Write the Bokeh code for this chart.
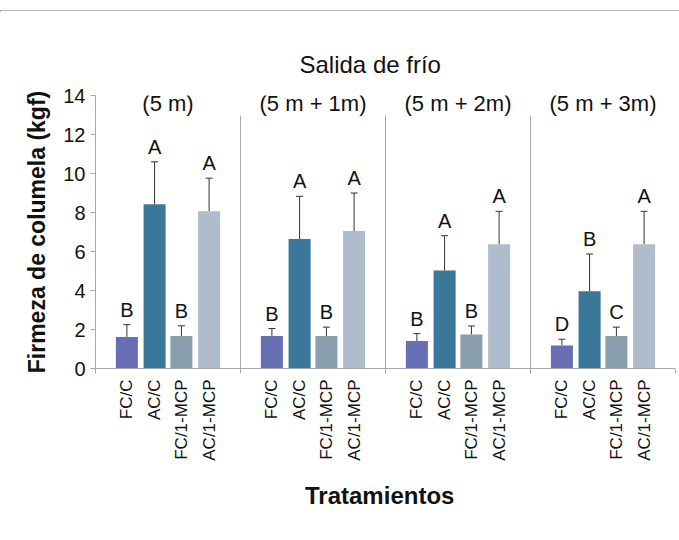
import math
from bokeh.plotting import figure
from bokeh.models import (Range1d, FixedTicker, ColumnDataSource, Whisker, TeeHead,
                          Div, Title)
from bokeh.layouts import column
from bokeh.core.properties import value
from bokeh.embed import file_html
from bokeh.resources import INLINE

# --- data -----------------------------------------------------------------
groups = ["(5 m)", "(5 m + 1m)", "(5 m + 2m)", "(5 m + 3m)"]
treatments = ["FC/C", "AC/C", "FC/1-MCP", "AC/1-MCP"]
colors = ["#686fb5", "#3a7799", "#8a9fae", "#afbccb"]

# mean firmness (kgf) per group, in treatment order
means = [
    [1.62, 8.42, 1.67, 8.06],
    [1.67, 6.64, 1.67, 7.05],
    [1.41, 5.02, 1.74, 6.37],
    [1.18, 3.96, 1.67, 6.37],
]
# standard deviation (upper error bar)
errors = [
    [0.63, 2.18, 0.52, 1.70],
    [0.38, 2.19, 0.45, 1.95],
    [0.38, 1.79, 0.44, 1.69],
    [0.32, 1.91, 0.45, 1.69],
]
# significance letters
letters = [
    ["B", "A", "B", "A"],
    ["B", "A", "B", "A"],
    ["B", "A", "B", "A"],
    ["D", "B", "C", "A"],
]

FONT = "Liberation Sans"
AXIS_GREY = "#a8a8a8"
INK = "#111111"
offsets = [-0.2835, -0.0925, 0.0925, 0.2835]
bar_w = 0.152

xs, tops, errs, cols, labs, names = [], [], [], [], [], []
for g in range(len(groups)):
    for t in range(len(treatments)):
        xs.append(g + 0.5 + offsets[t])
        tops.append(means[g][t])
        errs.append(means[g][t] + errors[g][t])
        cols.append(colors[t])
        labs.append(letters[g][t])
        names.append(treatments[t])

src = ColumnDataSource(dict(x=xs, top=tops, upper=errs, color=cols, letter=labs,
                            name=names))
x_range = Range1d(0, len(groups))
bounds = list(range(len(groups) + 1))

# --- bar panel ---------------------------------------------------------------
p = figure(width=679, height=368, output_backend="svg", toolbar_location=None,
           x_range=x_range, y_range=Range1d(0, 14),
           min_border_left=95, min_border_right=4, min_border_top=85,
           min_border_bottom=10)
p.outline_line_color = None
p.grid.visible = False
p.background_fill_color = "white"
p.border_fill_color = "white"

p.title = Title(text="Salida de frío", align="left", offset=204,
                text_font=FONT, text_font_size="24px", text_font_style="normal",
                text_color=INK, standoff=36)

# group separators
p.segment(x0=[1, 2, 3], y0=[0, 0, 0], x1=[1, 2, 3], y1=[12.97] * 3,
          line_color=AXIS_GREY, line_width=1)

p.vbar(x="x", top="top", width=bar_w, color="color", line_color=None, source=src)

p.add_layout(Whisker(source=src, base="x", lower="top", upper="upper",
                     line_color="#333333", line_width=1,
                     upper_head=TeeHead(size=7, line_color="#333333", line_width=1),
                     lower_head=None))

p.text(x="x", y="upper", text="letter", source=src, y_offset=-4,
       text_align="center", text_baseline="bottom",
       text_font=value(FONT), text_font_size="20px", text_color=INK)

p.text(x=[g + 0.5 for g in range(len(groups))], y=[13.6] * len(groups), text=groups,
       text_align="center", text_baseline="middle",
       text_font=value(FONT), text_font_size="22px", text_color=INK)

# x axis: line plus ticks at the group boundaries only
xa = p.xaxis[0]
xa.ticker = FixedTicker(ticks=[], minor_ticks=bounds)
xa.major_tick_out = 0
xa.major_tick_in = 0
xa.minor_tick_out = 5
xa.minor_tick_in = 0
xa.minor_tick_line_color = AXIS_GREY
xa.axis_line_color = AXIS_GREY
xa.major_label_standoff = 0

ya = p.yaxis[0]
ya.ticker = FixedTicker(ticks=list(range(0, 15, 2)), minor_ticks=[])
ya.major_tick_out = 5
ya.major_tick_in = 0
ya.major_tick_line_color = AXIS_GREY
ya.axis_line_color = AXIS_GREY
ya.major_label_standoff = 5
ya.major_label_text_font = FONT
ya.major_label_text_font_size = "20px"
ya.major_label_text_color = INK
ya.axis_label = "Firmeza de columela (kgf)"
ya.axis_label_text_font = FONT
ya.axis_label_text_font_style = "bold"
ya.axis_label_text_font_size = "23px"
ya.axis_label_text_color = INK
ya.axis_label_standoff = 10

# --- treatment names strip (y measured in pixels down from its top edge) -----
strip_h = 162
q = figure(width=679, height=strip_h, output_backend="svg", toolbar_location=None,
           x_range=x_range, y_range=Range1d(strip_h, 0),
           x_axis_location=None, y_axis_location=None,
           min_border_left=95, min_border_right=4, min_border_top=0,
           min_border_bottom=0)
q.outline_line_color = None
q.grid.visible = False
q.background_fill_color = "white"
q.border_fill_color = "white"

q.text(x="x", y=1, text="name", source=src, angle=math.pi / 2,
       text_align="right", text_baseline="middle",
       text_font=value(FONT), text_font_size="17px", text_color=INK)

q.text(x=[1.96], y=[117], text=["Tratamientos"], text_align="center",
       text_baseline="middle", text_font=value(FONT), text_font_size="24px",
       text_font_style="bold", text_color=INK)

top_rule = Div(text='<div style="margin-top:2px;border-top:2px solid #a3a3a3;width:679px;"></div>',
               width=679, height=10, margin=0)

layout = column(top_rule, p, q, spacing=0)
open("out.html", "w").write(file_html(layout, INLINE))
